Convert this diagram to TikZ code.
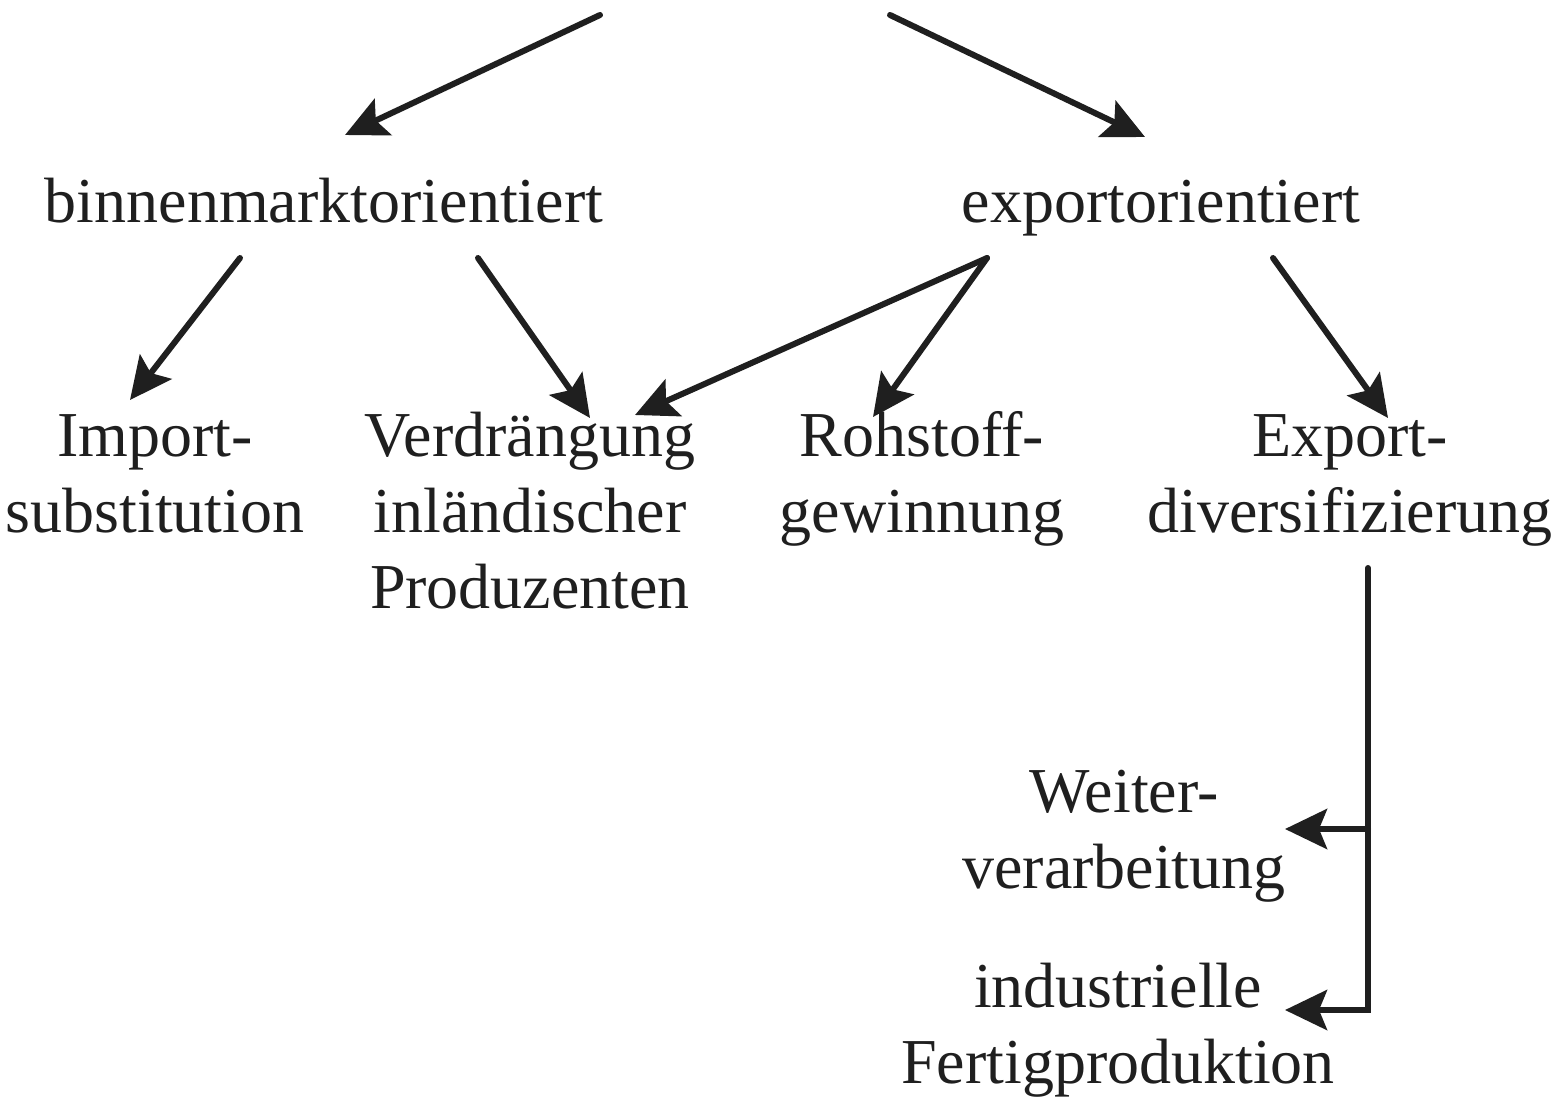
\documentclass[tikz,border=0pt]{standalone}
\usepackage{fontspec}
\setmainfont{Liberation Serif}
\usetikzlibrary{arrows.meta}
\tikzset{
  lbl/.style={inner sep=0pt, outer sep=0pt, font=\fontsize{32}{38}\selectfont, align=center, text=black!88},
  conn/.style={line width=3pt, line cap=round, draw=black!88, -{Stealth[length=21pt,width=20pt,inset=4pt]}},
  plain/.style={line width=3pt, line cap=round, line join=round, draw=black!88}
}
\begin{document}
\begin{tikzpicture}[x=0.5pt,y=-0.5pt]
\useasboundingbox (0,0) rectangle (1557,1097);
% nodes
\node[lbl, anchor=base] (binnen) at (324,222) {binnenmarktorientiert};
\node[lbl, anchor=base] (export) at (1161,222) {exportorientiert};
\node[lbl, anchor=north] (imp) at (155,403) {\strut Import-\\substitution};
\node[lbl, anchor=north] (ver) at (530,403) {\strut Verdrängung\\inländischer\\Produzenten};
\node[lbl, anchor=north] (roh) at (922,403) {\strut Rohstoff-\\gewinnung};
\node[lbl, anchor=north] (exd) at (1350,403) {\strut Export-\\diversifizierung};
\node[lbl, anchor=north] (wei) at (1124,759) {\strut Weiter-\\verarbeitung};
\node[lbl, anchor=north] (ind) at (1118,954) {\strut industrielle\\Fertigproduktion};
% free ends at the top
\coordinate (topL) at (600,15);
\coordinate (topR) at (890,15);
% connectors
\draw[conn] (topL) -- ([shift={(21,-87)}]binnen.base);
\draw[conn] (topR) -- ([shift={(-16,-85)}]export.base);
\draw[conn] ([shift={(-84,36)}]binnen.base) -- ([shift={(-25,-3)}]imp.north);
\draw[conn] ([shift={(154,36)}]binnen.base) -- ([shift={(60,15)}]ver.north);
\draw[conn] ([shift={(-174,36)}]export.base) -- ([shift={(105,12)}]ver.north);
\draw[conn] ([shift={(-174,36)}]export.base) -- ([shift={(-49,14)}]roh.north);
\draw[conn] ([shift={(112,36)}]export.base) -- ([shift={(38,15)}]exd.north);
\coordinate (vtop) at ([shift={(18,165)}]exd.north);
\coordinate (weitip) at ([shift={(161,70)}]wei.north);
\coordinate (indtip) at ([shift={(167,56)}]ind.north);
\draw[conn] (vtop) |- (indtip);
\draw[conn] (vtop |- weitip) -- (weitip);
\end{tikzpicture}
\end{document}
